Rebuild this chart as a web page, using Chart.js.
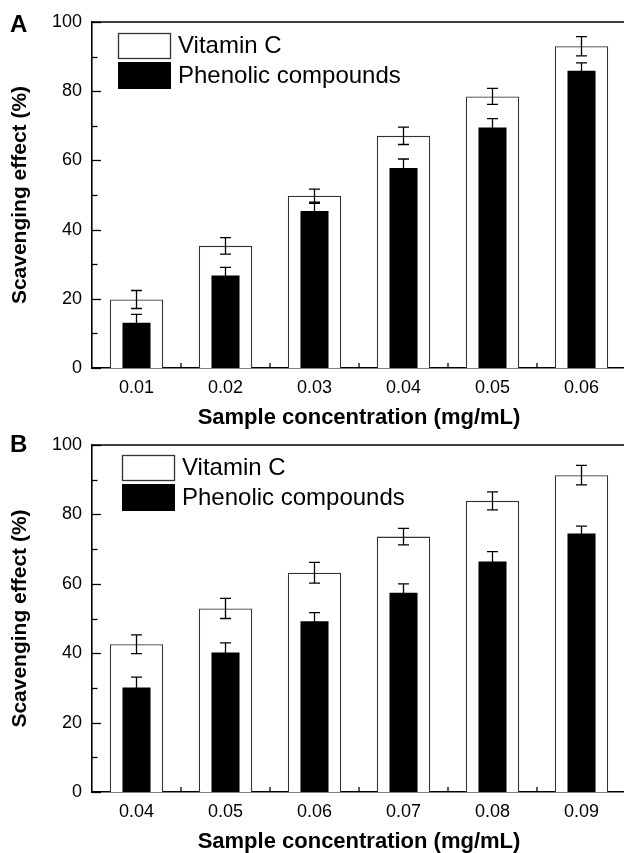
<!DOCTYPE html>
<html>
<head>
<meta charset="utf-8">
<script src="https://cdn.jsdelivr.net/npm/chart.js@4/dist/chart.umd.min.js"></script>
<style>
  html, body { margin: 0; padding: 0; background: #fff; width: 624px; height: 853px; overflow: hidden; position: relative; }
  canvas { position: absolute; left: 0; }
  #chartA { top: 0; }
  #chartB { top: 424px; }
</style>
</head>
<body>
<canvas id="chartA" width="640" height="436"></canvas>
<canvas id="chartB" width="640" height="429"></canvas>
<script>
const FONT = "'Liberation Sans', Arial, sans-serif";

// panel A
const catsA = ["0.01", "0.02", "0.03", "0.04", "0.05", "0.06"];
const vitCA = [19.8, 35.3, 49.8, 67.1, 78.5, 93.0];
const vitCErrA = [2.6, 2.4, 1.9, 2.5, 2.3, 2.8];
const phenA = [13.1, 26.7, 45.4, 57.8, 69.5, 85.9];
const phenErrA = [2.4, 2.4, 2.2, 2.6, 2.6, 2.3];

// panel B
const catsB = ["0.04", "0.05", "0.06", "0.07", "0.08", "0.09"];
const vitCB = [42.6, 52.9, 63.2, 73.6, 83.9, 91.3];
const vitCErrB = [2.7, 2.9, 3.0, 2.4, 2.6, 2.8];
const phenB = [30.1, 40.2, 49.2, 57.4, 66.4, 74.5];
const phenErrB = [3.0, 2.8, 2.5, 2.6, 2.9, 2.1];

const yTicks = [0, 20, 40, 60, 80, 100];
const seriesNames = ["Vitamin C", "Phenolic compounds"];

// error bars, frame, inward ticks, legend and panel letter
const decor = {
  id: "decor",
  afterDatasetsDraw(chart, args, opts) {
    const ctx = chart.ctx;
    const y = chart.scales.y, x = chart.scales.x;
    const area = chart.chartArea;
    ctx.save();
    ctx.strokeStyle = "#000";

    // error bars
    ctx.lineWidth = 1.3;
    chart.data.datasets.forEach((ds, di) => {
      const meta = chart.getDatasetMeta(di);
      meta.data.forEach((bar, i) => {
        const hi = y.getPixelForValue(ds.data[i] + ds.errors[i]);
        const lo = y.getPixelForValue(ds.data[i] - ds.errors[i]);
        ctx.beginPath();
        ctx.moveTo(bar.x, hi); ctx.lineTo(bar.x, lo);
        ctx.moveTo(bar.x - 5.5, hi); ctx.lineTo(bar.x + 5.5, hi);
        ctx.moveTo(bar.x - 5.5, lo); ctx.lineTo(bar.x + 5.5, lo);
        ctx.stroke();
      });
    });

    // top line of the frame
    ctx.lineWidth = 1.6;
    ctx.beginPath();
    ctx.moveTo(area.left, area.top);
    ctx.lineTo(chart.width, area.top);
    ctx.stroke();

    // inward y ticks, major every 20, minor every 10
    ctx.lineWidth = 1.3;
    for (let v = 0; v <= 100; v += 10) {
      const py = Math.round(y.getPixelForValue(v)) + 0.5;
      const len = v % 20 === 0 ? 9 : 5.5;
      ctx.beginPath();
      ctx.moveTo(area.left, py); ctx.lineTo(area.left + len, py);
      ctx.stroke();
    }
    // x ticks between categories
    for (let i = 0; i < chart.data.labels.length - 1; i++) {
      const px = (x.getPixelForValue(i) + x.getPixelForValue(i + 1)) / 2;
      ctx.beginPath();
      ctx.moveTo(px, area.bottom); ctx.lineTo(px, area.bottom - 5);
      ctx.stroke();
    }

    // legend
    const lx = area.left + opts.legendDx, ly = area.top + opts.legendDy;
    ctx.font = "24px " + FONT;
    ctx.textBaseline = "middle";
    ctx.textAlign = "left";
    ctx.lineWidth = 1.3;
    ctx.strokeStyle = "#333";
    ctx.fillStyle = "#fff";
    ctx.fillRect(lx, ly, 53, 26);
    ctx.strokeRect(lx + 0.5, ly + 0.5, 52, 25);
    ctx.fillStyle = "#000";
    ctx.fillRect(lx, ly + 29, 53, 27);
    ctx.fillText(seriesNames[0], lx + 60, ly + 13);
    ctx.fillText(seriesNames[1], lx + 60, ly + 43);

    // panel letter
    ctx.font = "bold 24px " + FONT;
    ctx.fillText(opts.letter, 10, opts.letterY);
    ctx.restore();
  }
};

function makePanel(id, cats, vit, vitErr, phen, phenErr, opts) {
  new Chart(document.getElementById(id), {
    type: "bar",
    data: {
      labels: cats,
      datasets: [
        {
          label: seriesNames[0],
          data: vit,
          errors: vitErr,
          backgroundColor: "#fff",
          borderColor: "#333",
          borderWidth: 1.3,
          barPercentage: 0.6,
          categoryPercentage: 1,
          order: 2
        },
        {
          label: seriesNames[1],
          data: phen,
          errors: phenErr,
          backgroundColor: "#000",
          borderWidth: 0,
          barPercentage: 0.315,
          categoryPercentage: 1,
          order: 1
        }
      ]
    },
    options: {
      responsive: false,
      animation: false,
      events: [],
      layout: { padding: { top: opts.top, right: 14, left: 0, bottom: 0 } },
      datasets: { bar: { grouped: false } },
      plugins: {
        legend: { display: false },
        tooltip: { enabled: false },
        decor: { legendDx: opts.legendDx, legendDy: opts.legendDy, letter: opts.letter, letterY: opts.letterY }
      },
      scales: {
        x: {
          grid: { display: false, drawTicks: false },
          border: { display: true, color: "#000", width: 1.6 },
          ticks: { color: "#000", font: { family: FONT, size: 18 }, padding: 9, maxRotation: 0 },
          title: {
            display: true,
            text: "Sample concentration (mg/mL)",
            color: "#000",
            font: { family: FONT, size: 22, weight: "bold", lineHeight: 1 },
            padding: { top: 0, bottom: opts.titlePad }
          },
          afterFit(scale) { scale.height = opts.xHeight; }
        },
        y: {
          min: 0,
          max: 100,
          afterBuildTicks(scale) { scale.ticks = yTicks.map(v => ({ value: v })); },
          grid: { display: false, drawTicks: false },
          border: { display: true, color: "#000", width: 1.6 },
          ticks: { color: "#000", font: { family: FONT, size: 18 }, padding: 10 },
          title: {
            display: true,
            text: "Scavenging effect (%)",
            color: "#000",
            font: { family: FONT, size: 21, weight: "bold", lineHeight: 1 },
            padding: { top: 10, bottom: 0 }
          },
          afterFit(scale) { scale.width = 92; }
        }
      }
    },
    plugins: [decor]
  });
}

makePanel("chartA", catsA, vitCA, vitCErrA, phenA, phenErrA,
  { top: 22, xHeight: 68, titlePad: 7, legendDx: 26, legendDy: 11, letter: "A", letterY: 25 });
makePanel("chartB", catsB, vitCB, vitCErrB, phenB, phenErrB,
  { top: 21, xHeight: 61, titlePad: 0, legendDx: 30, legendDy: 10, letter: "B", letterY: 21 });
</script>
</body>
</html>
